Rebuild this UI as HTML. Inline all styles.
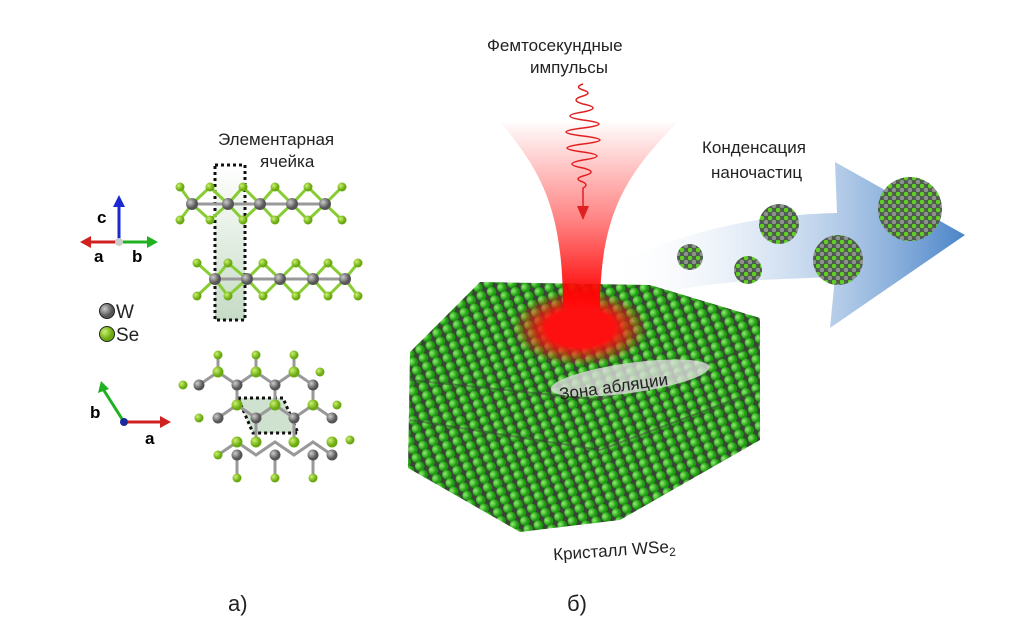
<!DOCTYPE html>
<html><head><meta charset="utf-8"><style>
body{margin:0;background:#fff}
svg{display:block}
text{font-family:"Liberation Sans",sans-serif}
</style></head><body>
<svg width="1024" height="632" viewBox="0 0 1024 632" xmlns="http://www.w3.org/2000/svg">
<defs>
<radialGradient id="gw" cx="35%" cy="35%"><stop offset="0" stop-color="#ccc"/><stop offset="1" stop-color="#555"/></radialGradient>
<radialGradient id="gs" cx="35%" cy="35%"><stop offset="0" stop-color="#ccf070"/><stop offset="1" stop-color="#6aaa10"/></radialGradient>
<radialGradient id="gg" cx="35%" cy="35%"><stop offset="0" stop-color="#8ff070"/><stop offset="1" stop-color="#1e9a10"/></radialGradient>
<pattern id="cr" width="11" height="9" patternUnits="userSpaceOnUse" patternTransform="rotate(-22)">
<rect width="11" height="9" fill="#3a4436"/>
<circle cx="5.5" cy="4.5" r="4.8" fill="url(#gg)"/>
</pattern>
<linearGradient id="beam" x1="0" y1="120" x2="0" y2="300" gradientUnits="userSpaceOnUse"><stop offset="0" stop-color="#ff2020" stop-opacity="0"/><stop offset="0.55" stop-color="#ff2020" stop-opacity="0.55"/><stop offset="1" stop-color="#ff0000"/></linearGradient>
<radialGradient id="spot"><stop offset="0.5" stop-color="#ff1010"/><stop offset="1" stop-color="#ff1010" stop-opacity="0"/></radialGradient>
<linearGradient id="arr" x1="0" y1="0" x2="1" y2="0"><stop offset="0" stop-color="#fff" stop-opacity="0"/><stop offset="1" stop-color="#4a84c8"/></linearGradient>
<linearGradient id="cell" x1="0" y1="0" x2="0" y2="1"><stop offset="0" stop-color="#fff"/><stop offset="1" stop-color="#9fc39f"/></linearGradient>
<pattern id="clp" width="8" height="8" patternUnits="userSpaceOnUse"><rect width="8" height="8" fill="#4f5a50"/><circle cx="2" cy="2" r="2.3" fill="#5fd020"/><circle cx="6" cy="6" r="2.3" fill="#8c948c"/></pattern>
</defs>

<!-- Left panel: unit cell -->
<rect x="215" y="165" width="30" height="155" fill="url(#cell)" opacity="0.6"/>
<rect x="215" y="165" width="30" height="155" fill="none" stroke="#111" stroke-width="3" stroke-dasharray="3,3"/>
<g stroke-width="3" fill="none">
<g stroke="#999">
<path d="M192 204 L325 204"/>
<path d="M215 279 L345 279"/>
</g>
<g stroke="#8c3">
<path d="M180 187 L192 204 L180 220 M210 187 L192 204 L210 220 M210 187 L228 204 L210 220 M243 187 L228 204 L243 220 M243 187 L260 204 L243 220 M275 187 L260 204 L275 220 M275 187 L292 204 L275 220 M308 187 L292 204 L308 220 M308 187 L325 204 L308 220 M342 187 L325 204 L342 220"/>
<path d="M197 263 L215 279 L197 296 M228 263 L215 279 L228 296 M228 263 L247 279 L228 296 M263 263 L247 279 L263 296 M263 263 L280 279 L263 296 M296 263 L280 279 L296 296 M296 263 L313 279 L296 296 M328 263 L313 279 L328 296 M328 263 L345 279 L328 296 M358 263 L345 279 L358 296"/>
</g></g>
<g fill="url(#gs)">
<circle cx="180" cy="187" r="4.5"/><circle cx="210" cy="187" r="4.5"/><circle cx="243" cy="187" r="4.5"/><circle cx="275" cy="187" r="4.5"/><circle cx="308" cy="187" r="4.5"/><circle cx="342" cy="187" r="4.5"/>
<circle cx="180" cy="220" r="4.5"/><circle cx="210" cy="220" r="4.5"/><circle cx="243" cy="220" r="4.5"/><circle cx="275" cy="220" r="4.5"/><circle cx="308" cy="220" r="4.5"/><circle cx="342" cy="220" r="4.5"/>
<circle cx="197" cy="263" r="4.5"/><circle cx="228" cy="263" r="4.5"/><circle cx="263" cy="263" r="4.5"/><circle cx="296" cy="263" r="4.5"/><circle cx="328" cy="263" r="4.5"/><circle cx="358" cy="263" r="4.5"/>
<circle cx="197" cy="296" r="4.5"/><circle cx="228" cy="296" r="4.5"/><circle cx="263" cy="296" r="4.5"/><circle cx="296" cy="296" r="4.5"/><circle cx="328" cy="296" r="4.5"/><circle cx="358" cy="296" r="4.5"/>
</g>
<g fill="url(#gw)">
<circle cx="192" cy="204" r="6"/><circle cx="228" cy="204" r="6"/><circle cx="260" cy="204" r="6"/><circle cx="292" cy="204" r="6"/><circle cx="325" cy="204" r="6"/>
<circle cx="215" cy="279" r="6"/><circle cx="247" cy="279" r="6"/><circle cx="280" cy="279" r="6"/><circle cx="313" cy="279" r="6"/><circle cx="345" cy="279" r="6"/>
</g>
<text x="218" y="145" font-size="17" fill="#222">Элементарная</text>
<text x="260" y="167" font-size="17" fill="#222">ячейка</text>

<!-- axes 1 -->
<line x1="119" y1="242" x2="119" y2="205" stroke="#1a2ad0" stroke-width="3"/><path d="M113 207 L119 195 L125 207Z" fill="#1a2ad0"/>
<line x1="119" y1="242" x2="88" y2="242" stroke="#d02020" stroke-width="3"/><path d="M91 236 L80 242 L91 248Z" fill="#d02020"/>
<line x1="119" y1="242" x2="150" y2="242" stroke="#20b020" stroke-width="3"/><path d="M147 236 L158 242 L147 248Z" fill="#20b020"/>
<circle cx="119" cy="242" r="4" fill="#ccc"/>
<text x="97" y="223" font-size="17" font-weight="bold">c</text>
<text x="94" y="262" font-size="17" font-weight="bold">a</text>
<text x="132" y="262" font-size="17" font-weight="bold">b</text>
<!-- legend -->
<circle cx="107" cy="311" r="7.5" fill="url(#gw)" stroke="#222"/>
<text x="116" y="318" font-size="19" fill="#222">W</text>
<circle cx="107" cy="334" r="7.5" fill="url(#gs)" stroke="#222"/>
<text x="116" y="341" font-size="19" fill="#222">Se</text>
<!-- axes 2 -->
<line x1="124" y1="422" x2="103" y2="389" stroke="#20b020" stroke-width="3"/><path d="M98 393 L101 381 L109 389Z" fill="#20b020"/>
<line x1="124" y1="422" x2="163" y2="422" stroke="#d02020" stroke-width="3"/><path d="M160 416 L171 422 L160 428Z" fill="#d02020"/>
<circle cx="124" cy="422" r="4" fill="#1a2a9a"/>
<text x="90" y="418" font-size="17" font-weight="bold">b</text>
<text x="145" y="444" font-size="17" font-weight="bold">a</text>

<!-- top view hexagonal -->
<path d="M238 398 L283 398 L298 433 L253 433Z" fill="#9fc39f" opacity="0.5"/>
<path d="M238 398 L283 398 L298 433 L253 433Z" fill="none" stroke="#111" stroke-width="3" stroke-dasharray="3,3"/>
<g stroke="#999" stroke-width="3" fill="none">
<path d="M199 385 L218 372 L237 385 L256 372 L275 385 L294 372 L313 385"/>
<path d="M218 418 L237 405 L256 418 L275 405 L294 418 L313 405 L332 418"/>
<path d="M218 455 L237 442 L256 455 L275 442 L294 455 L313 442 L332 455"/>
<path d="M218 372 L218 355 M256 372 L256 355 M294 372 L294 355 M237 405 L237 385 M275 405 L275 385 M313 405 L313 385 M256 442 L256 418 M294 442 L294 418 M237 455 L237 478 M275 455 L275 478 M313 455 L313 478"/>
</g>
<g fill="url(#gs)">
<circle cx="218" cy="355" r="4.5"/><circle cx="256" cy="355" r="4.5"/><circle cx="294" cy="355" r="4.5"/><circle cx="183" cy="385" r="4.5"/><circle cx="320" cy="372" r="4.5"/>
<circle cx="237" cy="405" r="5.5"/><circle cx="275" cy="405" r="5.5"/><circle cx="313" cy="405" r="5.5"/><circle cx="218" cy="372" r="5.5"/><circle cx="256" cy="372" r="5.5"/><circle cx="294" cy="372" r="5.5"/>
<circle cx="199" cy="418" r="4.5"/><circle cx="337" cy="405" r="4.5"/>
<circle cx="256" cy="442" r="5.5"/><circle cx="294" cy="442" r="5.5"/><circle cx="237" cy="442" r="5.5"/><circle cx="332" cy="442" r="5.5"/>
<circle cx="218" cy="455" r="4.5"/><circle cx="237" cy="478" r="4.5"/><circle cx="275" cy="478" r="4.5"/><circle cx="313" cy="478" r="4.5"/><circle cx="350" cy="440" r="4.5"/>
</g>
<g fill="url(#gw)">
<circle cx="199" cy="385" r="5.5"/><circle cx="237" cy="385" r="5.5"/><circle cx="275" cy="385" r="5.5"/><circle cx="313" cy="385" r="5.5"/>
<circle cx="218" cy="418" r="5.5"/><circle cx="256" cy="418" r="5.5"/><circle cx="294" cy="418" r="5.5"/><circle cx="332" cy="418" r="5.5"/>
<circle cx="237" cy="455" r="5.5"/><circle cx="275" cy="455" r="5.5"/><circle cx="313" cy="455" r="5.5"/><circle cx="332" cy="455" r="5.5"/>
</g>

<!-- arrow -->
<path d="M610 310 C680 280 760 280 835 277 L830 328 L965 235 L835 162 L837 213 C740 215 660 240 605 270Z" fill="url(#arr)"/>

<!-- crystal -->
<path d="M410 352 L480 282 L650 285 L760 318 L760 440 L620 520 L520 532 L408 468Z" fill="url(#cr)"/>
<path d="M410 380 L600 400 L760 345" fill="none" stroke="#3a4436" stroke-width="2" opacity="0.5"/>
<path d="M410 420 L600 450 L760 390" fill="none" stroke="#3a4436" stroke-width="2" opacity="0.5"/>

<!-- beam -->
<path d="M500 122 C545 175 563 215 563 310 L600 310 C600 215 625 175 678 122 Z" fill="url(#beam)"/>
<ellipse cx="580" cy="328" rx="68" ry="38" fill="url(#spot)"/>
<path d="M583 84 q-9 3 0 6 q10 3 0 6 q-14 4 0 8 q20 4 0 8 q-26 4 0 8 q32 4 0 8 q-34 4 0 8 q34 4 0 8 q-32 4 0 8 q28 4 0 8 q-22 4 0 8 q16 4 0 8 q-10 3 0 6 q6 3 0 6 L583 206" fill="none" stroke="#e02020" stroke-width="1.5"/>
<path d="M577 206 L583 220 L589 206Z" fill="#e02020"/>
<ellipse cx="630" cy="378" rx="80" ry="15" transform="rotate(-8 630 378)" fill="#ddd" opacity="0.8"/>
<text x="558" y="390" font-size="17" fill="#222" transform="rotate(-8 630 380)">Зона абляции</text>

<!-- clusters -->
<circle cx="690" cy="257" r="13" fill="url(#clp)"/>
<circle cx="748" cy="270" r="14" fill="url(#clp)"/>
<circle cx="779" cy="224" r="20" fill="url(#clp)"/>
<circle cx="838" cy="260" r="25" fill="url(#clp)"/>
<circle cx="910" cy="209" r="32" fill="url(#clp)"/>

<text x="487" y="51" font-size="17" fill="#222">Фемтосекундные</text>
<text x="530" y="73" font-size="17" fill="#222">импульсы</text>
<text x="702" y="153" font-size="17" fill="#222">Конденсация</text>
<text x="711" y="178" font-size="17" fill="#222">наночастиц</text>
<text x="553" y="557" font-size="17" fill="#222" transform="rotate(-4 600 550)">Кристалл WSe<tspan font-size="12" dy="4">2</tspan></text>
<text x="228" y="611" font-size="22" fill="#222">а)</text>
<text x="567" y="611" font-size="22" fill="#222">б)</text>
</svg>
</body></html>
